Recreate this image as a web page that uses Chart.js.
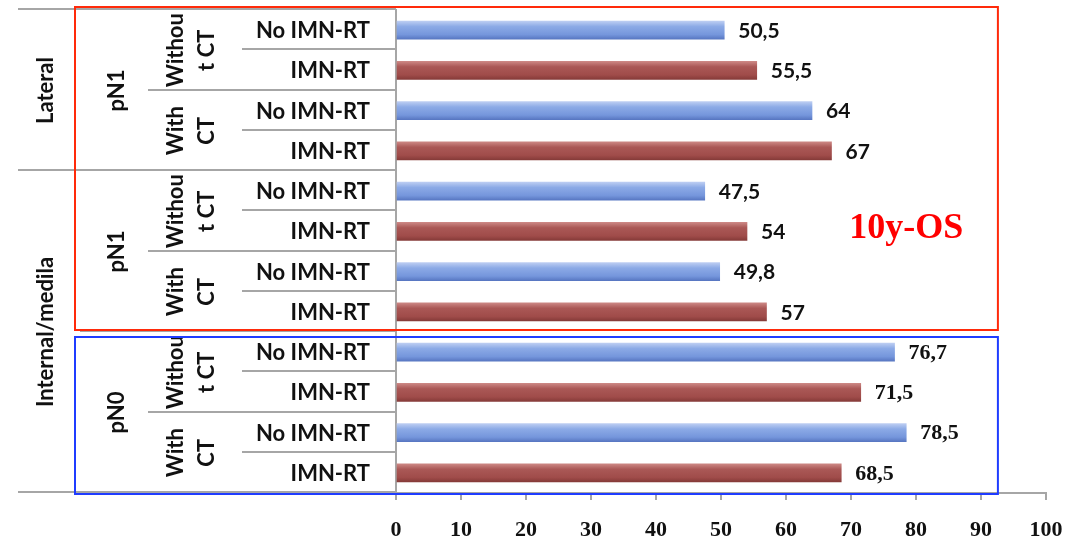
<!DOCTYPE html>
<html>
<head>
<meta charset="utf-8">
<script src="https://cdn.jsdelivr.net/npm/chart.js@4.4.1/dist/chart.umd.min.js"></script>
<style>
  html, body { margin: 0; padding: 0; background: #ffffff; }
  canvas { display: block; }
</style>
</head>
<body>
<canvas id="chart" width="1086" height="545"></canvas>
<script>
// Treatment arm of each bar, top to bottom
const categories = [
  'No IMN-RT', 'IMN-RT', 'No IMN-RT', 'IMN-RT',
  'No IMN-RT', 'IMN-RT', 'No IMN-RT', 'IMN-RT',
  'No IMN-RT', 'IMN-RT', 'No IMN-RT', 'IMN-RT'
];
// 10-year overall survival (%)
const osValues = [50.5, 55.5, 64, 67, 47.5, 54, 49.8, 57, 76.7, 71.5, 78.5, 68.5];

// Grouping levels: [label, first row, last row]
const siteGroups = [
  ['Lateral', 0, 3],
  ['Internal/medila', 4, 11]
];
const stageGroups = [
  ['pN1', 0, 3],
  ['pN1', 4, 7],
  ['pN0', 8, 11]
];
const chemoGroups = [
  [['Withou', 't CT'], 0, 1],
  [['With', 'CT'], 2, 3],
  [['Withou', 't CT'], 4, 5],
  [['With', 'CT'], 6, 7],
  [['Withou', 't CT'], 8, 9],
  [['With', 'CT'], 10, 11]
];
const xTicks = [0, 10, 20, 30, 40, 50, 60, 70, 80, 90, 100];
const annotationText = '10y-OS';

const AXIS_GREY = '#a6a6a6';
const SANS_BOLD = 'bold 21px Lato, "Open Sans", sans-serif';
const LABEL_BOLD = 'bold 22px Lato, "Open Sans", sans-serif';
const SERIF_BOLD = 'bold 22px "Liberation Serif", "Times New Roman", serif';

function fmt(v) { return String(v).replace('.', ','); }

function barGradient(ctx) {
  const chart = ctx.chart;
  const ys = chart.scales && chart.scales.y;
  if (!chart.chartArea || !ys) return ctx.dataIndex % 2 === 0 ? '#7f9de0' : '#a3504e';
  const cy = ys.getPixelForValue(ctx.dataIndex);
  const g = chart.ctx.createLinearGradient(0, cy - 9, 0, cy + 9);
  if (ctx.dataIndex % 2 === 0) {
    g.addColorStop(0, '#bccdf2');
    g.addColorStop(0.3, '#8caae6');
    g.addColorStop(0.75, '#7596dc');
    g.addColorStop(1, '#5877c2');
  } else {
    g.addColorStop(0, '#cc8784');
    g.addColorStop(0.3, '#aa5856');
    g.addColorStop(0.75, '#a04c4a');
    g.addColorStop(1, '#863b39');
  }
  return g;
}

// Value labels at the end of each bar
const valueLabels = {
  id: 'valueLabels',
  afterDatasetsDraw(chart) {
    const ctx = chart.ctx;
    const meta = chart.getDatasetMeta(0);
    ctx.save();
    ctx.fillStyle = '#111111';
    ctx.textBaseline = 'middle';
    ctx.textAlign = 'left';
    meta.data.forEach((bar, i) => {
      ctx.font = i >= 8 ? SERIF_BOLD : SANS_BOLD;
      ctx.fillText(fmt(osValues[i]), bar.x + 14, bar.y + 1);
    });
    ctx.restore();
  }
};

// Nested category labels and separators on the left side
const groupedAxis = {
  id: 'groupedAxis',
  afterDraw(chart) {
    const ctx = chart.ctx;
    const ys = chart.scales.y;
    const xs = chart.scales.x;
    const area = chart.chartArea;
    const n = categories.length;
    const rowH = (area.bottom - area.top) / n;
    const edge = k => area.top + k * rowH;
    const mid = (a, b) => (edge(a) + edge(b + 1)) / 2;

    // separators: start further left for higher-level group edges
    const siteEdges = new Set(siteGroups.flatMap(g => [g[1], g[2] + 1]));
    const stageEdges = new Set(stageGroups.flatMap(g => [g[1], g[2] + 1]));
    const chemoEdges = new Set(chemoGroups.flatMap(g => [g[1], g[2] + 1]));
    ctx.save();
    ctx.strokeStyle = AXIS_GREY;
    ctx.lineWidth = 2;
    for (let k = 0; k <= n; k++) {
      let x0 = 242;
      if (siteEdges.has(k)) x0 = 18;
      else if (stageEdges.has(k)) x0 = 80;
      else if (chemoEdges.has(k)) x0 = 148;
      const y = Math.round(edge(k)) - 1;
      ctx.beginPath();
      ctx.moveTo(x0, y);
      ctx.lineTo(area.left, y);
      ctx.stroke();
    }

    ctx.fillStyle = '#111111';
    ctx.font = LABEL_BOLD;
    ctx.textBaseline = 'middle';

    // row labels
    ctx.textAlign = 'right';
    categories.forEach((c, i) => {
      ctx.fillText(c, 370, ys.getPixelForValue(i) + 1);
    });

    const vertical = (text, x, y) => {
      ctx.save();
      ctx.translate(x, y);
      ctx.rotate(-Math.PI / 2);
      ctx.textAlign = 'center';
      ctx.textBaseline = 'middle';
      ctx.fillText(text, 0, 0);
      ctx.restore();
    };
    siteGroups.forEach(g => vertical(g[0], 46, mid(g[1], g[2])));
    stageGroups.forEach(g => vertical(g[0], 117, mid(g[1], g[2])));
    chemoGroups.forEach(g => {
      vertical(g[0][0], 176, mid(g[1], g[2]));
      vertical(g[0][1], 207, mid(g[1], g[2]));
    });

    // outlined panels
    const right = xs.getPixelForValue(92.6);
    ctx.lineWidth = 2;
    ctx.strokeStyle = '#ff2a0a';
    ctx.strokeRect(75, edge(0) - 3, right - 75, edge(8) - edge(0) + 1);
    ctx.strokeStyle = '#1f3cff';
    ctx.strokeRect(75, edge(8) + 5, right - 75, edge(12) - edge(8) - 4);

    // survival endpoint tag
    ctx.fillStyle = '#ff0000';
    ctx.font = 'bold 36px "Liberation Serif", "Times New Roman", serif';
    ctx.textAlign = 'center';
    ctx.textBaseline = 'alphabetic';
    ctx.fillText(annotationText, xs.getPixelForValue(78.5), ys.getPixelForValue(5) + 7);
    ctx.restore();
  }
};

new Chart(document.getElementById('chart'), {
  type: 'bar',
  data: {
    labels: categories,
    datasets: [{
      data: osValues,
      backgroundColor: barGradient,
      borderWidth: 0,
      barThickness: 18
    }]
  },
  options: {
    indexAxis: 'y',
    responsive: false,
    animation: false,
    layout: { padding: { top: 10, right: 40, left: 0, bottom: 0 } },
    plugins: { legend: { display: false }, tooltip: { enabled: false } },
    scales: {
      y: {
        ticks: { display: false },
        grid: { display: false },
        border: { display: true, color: AXIS_GREY, width: 2 },
        afterFit(scale) { scale.width = 396; }
      },
      x: {
        min: 0,
        max: 100,
        afterBuildTicks(scale) { scale.ticks = xTicks.map(v => ({ value: v })); },
        ticks: {
          color: '#111111',
          font: { family: '"Liberation Serif", "Times New Roman", serif', weight: 'bold', size: 22 },
          padding: 17,
          maxRotation: 0
        },
        grid: { drawOnChartArea: false, drawTicks: true, tickLength: 7, color: AXIS_GREY, lineWidth: 2 },
        border: { display: true, color: AXIS_GREY, width: 2 },
        afterFit(scale) { scale.height = 52; }
      }
    }
  },
  plugins: [valueLabels, groupedAxis]
});
</script>
</body>
</html>
